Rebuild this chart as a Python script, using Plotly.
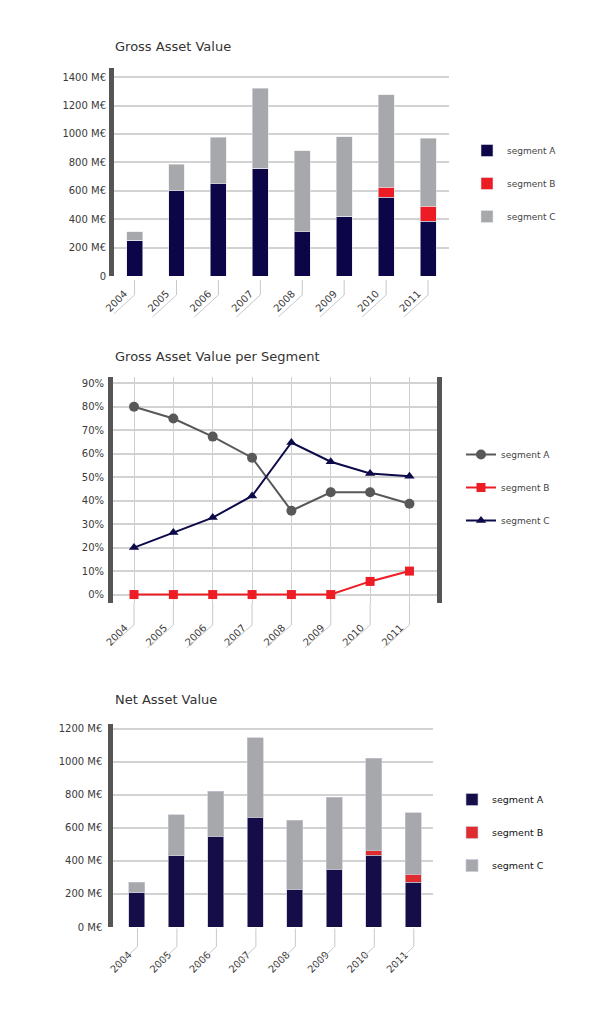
import plotly.graph_objects as go

# ---------------- data ----------------
years = ["2004", "2005", "2006", "2007", "2008", "2009", "2010", "2011"]

gav_a = [250, 600, 650, 760, 310, 420, 555, 385]
gav_b = [0, 0, 0, 0, 0, 0, 70, 105]
gav_c = [60, 185, 325, 560, 570, 560, 650, 480]

pct_a = [80, 75, 67.3, 58.3, 35.7, 43.6, 43.6, 38.7]
pct_b = [0, 0, 0, 0, 0, 0, 5.6, 10]
pct_c = [20, 26.4, 32.8, 42, 64.8, 56.6, 51.6, 50.4]

nav_a = [210, 435, 545, 660, 225, 345, 435, 270]
nav_b = [0, 0, 0, 0, 0, 0, 25, 50]
nav_c = [60, 245, 275, 485, 420, 440, 560, 370]

gav_tickvals = [0, 200, 400, 600, 800, 1000, 1200, 1400]
gav_ticktext = ["0", "200 M€", "400 M€", "600 M€", "800 M€", "1000 M€", "1200 M€", "1400 M€"]
pct_tickvals = [0, 10, 20, 30, 40, 50, 60, 70, 80, 90]
pct_ticktext = ["0%", "10%", "20%", "30%", "40%", "50%", "60%", "70%", "80%", "90%"]
nav_tickvals = [0, 200, 400, 600, 800, 1000, 1200]
nav_ticktext = ["0 M€", "200 M€", "400 M€", "600 M€", "800 M€", "1000 M€", "1200 M€"]
seg_names = ["segment A", "segment B", "segment C"]

# ---------------- style ----------------
W, H = 600, 1022
FONT = "DejaVu Sans"
NAVY1, RED1, GREY = "#0c0548", "#ec1c24", "#a7a8ab"
NAVY3, RED3 = "#150d47", "#e02b2f"
LINE_A, LINE_B, LINE_C = "#585858", "#ee1c25", "#0d0a4a"
AXCOL = "#555555"
GRID = "#d2d2d2"
TXT = "#3a3a3a"


def px(y):
    return 1 - y / H


fig = go.Figure()

# chart 1 : Gross Asset Value (stacked bars)
for vals, name, col in zip([gav_a, gav_b, gav_c], seg_names, [NAVY1, RED1, GREY]):
    fig.add_trace(go.Bar(x=years, y=vals, name=name, width=0.38,
                         marker=dict(color=col, line=dict(color="rgba(230,230,235,0.7)", width=0.8)),
                         xaxis="x", yaxis="y", legend="legend", legendgroup="g1" + name))

# chart 2 : share per segment (lines)
for vals, name, col, sym, sz in zip([pct_a, pct_b, pct_c], seg_names,
                                     [LINE_A, LINE_B, LINE_C],
                                     ["circle", "square", "triangle-up"], [10, 9, 9]):
    fig.add_trace(go.Scatter(x=years, y=vals, name=name, mode="lines+markers",
                             line=dict(color=col, width=2),
                             marker=dict(color=col, symbol=sym, size=sz),
                             xaxis="x2", yaxis="y2", legend="legend2", legendgroup="g2" + name))

# chart 3 : Net Asset Value (stacked bars)
for vals, name, col in zip([nav_a, nav_b, nav_c], seg_names, [NAVY3, RED3, GREY]):
    fig.add_trace(go.Bar(x=years, y=vals, name=name, width=0.405,
                         marker=dict(color=col, line=dict(color="rgba(200,198,215,0.8)", width=0.8)),
                         xaxis="x3", yaxis="y3", legend="legend3", legendgroup="g3" + name))

xcommon = dict(type="category", showgrid=False, zeroline=False, showline=False, automargin=False,
               tickangle=-45, ticks="", tickfont=dict(family=FONT, size=10, color=TXT),
               fixedrange=True)
ycommon = dict(showline=True, linewidth=5, linecolor=AXCOL, gridcolor=GRID, gridwidth=1.5,
               automargin=False, ticks="outside", tickcolor="rgba(0,0,0,0)",
               tickfont=dict(family=FONT, size=10, color=TXT), zeroline=False, fixedrange=True)

fig.update_layout(
    width=W, height=H, margin=dict(l=0, r=0, t=0, b=0, autoexpand=False),
    paper_bgcolor="white", plot_bgcolor="white",
    barmode="stack", font=dict(family=FONT, color=TXT),
    xaxis=dict(xcommon, domain=[114 / W, 449 / W], anchor="y", range=[-0.49, 7.5],
               ticklabelstandoff=9, ticklabelshift=-10),
    yaxis=dict(ycommon, domain=[px(276), px(68)], anchor="x", range=[0, 1464],
               tickvals=gav_tickvals, ticktext=gav_ticktext, ticklen=1),
    xaxis2=dict(xcommon, domain=[113 / W, 437 / W], anchor="y2", range=[-0.534, 7.70],
                showgrid=True, gridcolor="#cfcfcf", gridwidth=1,
                ticklabelstandoff=16, ticklabelshift=-9),
    yaxis2=dict(ycommon, domain=[px(603), px(377)], anchor="x2", range=[-3.6, 92.7],
                tickvals=pct_tickvals, ticktext=pct_ticktext, mirror=True, ticklen=2),
    xaxis3=dict(xcommon, domain=[113.3 / W, 433 / W], anchor="y3", range=[-0.6, 7.5],
                ticklabelstandoff=19, ticklabelshift=-8),
    yaxis3=dict(ycommon, domain=[px(927), px(724)], anchor="x3", range=[0, 1228],
                tickvals=nav_tickvals, ticktext=nav_ticktext, ticklen=4),
    legend=dict(x=467 / W, y=px(136), xanchor="left", yanchor="top", traceorder="grouped",
                tracegroupgap=14, font=dict(family=FONT, size=9, color="#444")),
    legend2=dict(x=461 / W, y=px(440), xanchor="left", yanchor="top", traceorder="grouped",
                 tracegroupgap=14, font=dict(family=FONT, size=9, color="#444")),
    legend3=dict(x=452 / W, y=px(785), xanchor="left", yanchor="top", traceorder="grouped",
                 tracegroupgap=14, font=dict(family=FONT, size=9.5, color="#111")),
    showlegend=True,
)

# titles
for txt, yc in [("Gross Asset Value", 46), ("Gross Asset Value per Segment", 356), ("Net Asset Value", 699)]:
    fig.add_annotation(text=txt, x=113 / W, y=px(yc), xref="paper", yref="paper",
                       xanchor="left", yanchor="middle", showarrow=False,
                       font=dict(family=FONT, size=13, color="#333"))

# decorative tick brackets under the category labels
deco = "#c8c8c8"
for xr, base, v0, v1, dx, dy, off in [("x", 275, -5, -20, -24, -22, 0),
                                       ("x2", 603, 0, -22, -26, -23, 0),
                                       ("x3", 926.5, -2, -20, -22, -21, 0.5)]:
    for i in range(len(years)):
        fig.add_shape(type="line", xref=xr, yref="paper", xsizemode="pixel", ysizemode="pixel",
                      xanchor=i, yanchor=px(base), x0=off, x1=off, y0=v0, y1=v1,
                      line=dict(color=deco, width=1))
        fig.add_shape(type="line", xref=xr, yref="paper", xsizemode="pixel", ysizemode="pixel",
                      xanchor=i, yanchor=px(base), x0=off, x1=off + dx, y0=v1, y1=v1 + dy,
                      line=dict(color=deco, width=1))

fig.write_html("out.html")
